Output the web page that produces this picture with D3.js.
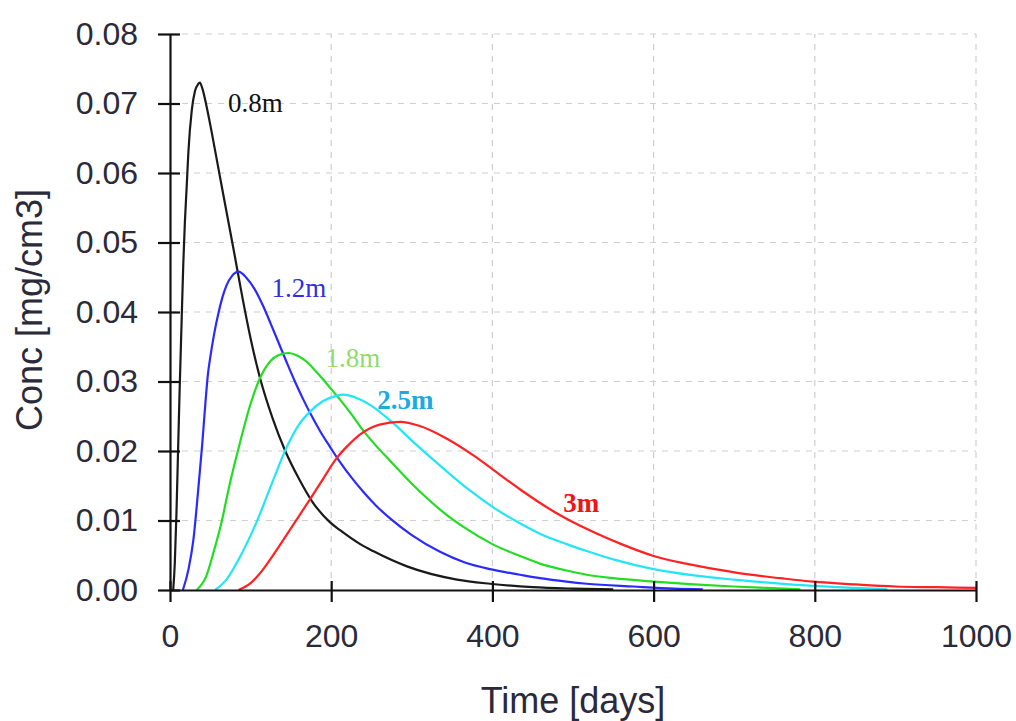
<!DOCTYPE html>
<html>
<head>
<meta charset="utf-8">
<script src="https://cdn.jsdelivr.net/npm/d3@7"></script>
<style>
  html, body { margin: 0; padding: 0; background: #fff; }
  svg { display: block; }
</style>
</head>
<body>
<svg id="chart" width="1016" height="721"></svg>
<script>
// ---- data ----
const xTicks = [0, 200, 400, 600, 800, 1000];
const yTicks = [0.00, 0.01, 0.02, 0.03, 0.04, 0.05, 0.06, 0.07, 0.08];
const seriesNames = ["0.8m", "1.2m", "1.8m", "2.5m", "3m"];

const t08 = [4, 6, 8, 10, 12, 14.5, 16.5, 18.5, 20.7, 22.8, 27, 31, 35, 37, 40, 45, 52, 60, 70, 80, 90, 100, 111.7, 127, 143, 160, 176, 198, 211, 236, 252, 294, 356, 397, 450, 500, 550];
const c08 = [0, 0.004, 0.011, 0.020, 0.029, 0.039, 0.047, 0.053, 0.058, 0.063, 0.069, 0.0718, 0.0728, 0.0730, 0.0722, 0.0698, 0.0657, 0.0607, 0.0545, 0.0483, 0.0420, 0.0362, 0.0305, 0.0248, 0.0200, 0.0160, 0.0128, 0.0098, 0.0086, 0.0066, 0.0056, 0.0034, 0.0015, 0.0009, 0.0004, 0.0002, 0.0001];

const t12 = [16, 23, 29, 35, 40, 44, 47, 50, 55, 60, 65, 70, 77, 85, 95, 105, 115, 125, 135, 145, 155, 165, 175, 187, 198.5, 211, 225, 240, 256, 273, 300, 335, 365, 397, 434, 459, 492, 517, 575, 625, 661];
const c12 = [0, 0.003, 0.0072, 0.0144, 0.021, 0.027, 0.031, 0.0335, 0.0370, 0.0398, 0.0421, 0.0438, 0.0452, 0.0458, 0.0449, 0.0433, 0.0410, 0.0383, 0.0355, 0.0327, 0.0300, 0.0275, 0.0252, 0.0227, 0.0206, 0.0184, 0.0162, 0.0141, 0.0121, 0.0103, 0.0079, 0.0055, 0.0040, 0.0030, 0.0022, 0.0017, 0.0012, 0.0009, 0.0005, 0.0002, 0.0001];

const t18 = [33, 45, 53.7, 64, 74.4, 86.8, 100, 111.7, 125, 135, 146.8, 160, 170, 180, 190, 200, 211, 225, 240, 256, 273, 300, 320, 340, 365, 400, 434, 459, 492, 517, 550, 600, 650, 699, 740, 782];
const c18 = [0, 0.002, 0.0053, 0.0098, 0.0154, 0.0212, 0.0268, 0.0305, 0.0330, 0.0338, 0.0341, 0.0336, 0.0328, 0.0316, 0.0303, 0.0289, 0.0274, 0.0253, 0.0229, 0.0207, 0.0186, 0.0153, 0.0131, 0.0111, 0.0090, 0.0066, 0.0049, 0.0038, 0.0028, 0.0022, 0.0017, 0.0012, 0.0008, 0.0005, 0.0003, 0.0001];

const t25 = [56, 70, 87, 107.5, 128, 145, 160, 174, 190, 205, 215, 230, 250, 277, 300, 339, 370, 401, 434, 459, 492, 517, 550, 600, 650, 699, 750, 798, 850, 890];
const c25 = [0, 0.0015, 0.0048, 0.0098, 0.0158, 0.0206, 0.0238, 0.0257, 0.0272, 0.0279, 0.0281, 0.0277, 0.0265, 0.0240, 0.0215, 0.0175, 0.0145, 0.0119, 0.0096, 0.0081, 0.0066, 0.0056, 0.0044, 0.0030, 0.0021, 0.0015, 0.0010, 0.0006, 0.0003, 0.0001];

const t30 = [85, 100, 111.7, 125, 140.6, 161, 175, 190, 207, 220, 236, 260, 285, 310, 343, 376, 401, 434, 476, 496, 530, 560, 600, 640, 682, 720, 757, 798, 850, 900, 950, 1000];
const c30 = [0, 0.001, 0.0024, 0.0045, 0.0072, 0.0108, 0.0133, 0.016, 0.0190, 0.0207, 0.0224, 0.0238, 0.0242, 0.0236, 0.0218, 0.0194, 0.0173, 0.0145, 0.0113, 0.0100, 0.0081, 0.0066, 0.0049, 0.0038, 0.0029, 0.0022, 0.0017, 0.0012, 0.0008, 0.0005, 0.0004, 0.0003];

const seriesColors = ["#1a1a1a", "#2a2aff", "#22dd22", "#22e6f6", "#ff2222"];
const labelColors = ["#111111", "#2f2fe0", "#8fdc6a", "#1aaae6", "#f01515"];

// ---- build ----
const times = [t08, t12, t18, t25, t30];
const concs = [c08, c12, c18, c25, c30];
const series = seriesNames.map((n, i) => ({
  name: n,
  color: seriesColors[i],
  labelColor: labelColors[i],
  pts: times[i].map((t, j) => [t, concs[i][j]])
}));

const svg = d3.select("#chart");
const x = d3.scaleLinear().domain([0, 1000]).range([170, 976]);
const y = d3.scaleLinear().domain([0, 0.08]).range([590, 34]);

// grid
const grid = svg.append("g").attr("stroke", "#cfcfcf").attr("stroke-width", 1.2).attr("stroke-dasharray", "6,6");
grid.selectAll("line.h").data(yTicks.slice(1)).enter().append("line")
  .attr("x1", x(0)).attr("x2", x(1000)).attr("y1", d => y(d)).attr("y2", d => y(d));
grid.selectAll("line.v").data(xTicks.slice(1)).enter().append("line")
  .attr("y1", y(0)).attr("y2", y(0.08)).attr("x1", d => x(d)).attr("x2", d => x(d));

// curves
const line = d3.line().x(d => x(d[0])).y(d => y(d[1])).curve(d3.curveMonotoneX);
svg.append("g").selectAll("path").data(series).enter().append("path")
  .attr("d", d => line(d.pts))
  .attr("fill", "none")
  .attr("stroke", d => d.color)
  .attr("stroke-width", 2.2)
  .attr("stroke-linejoin", "round");

// axes
const xAxis = d3.axisBottom(x).tickValues(xTicks).tickFormat(d3.format("d")).tickSizeInner(12).tickSizeOuter(0).tickPadding(22);
const gx = svg.append("g").attr("transform", `translate(0,${y(0)})`).call(xAxis);
const yAxis = d3.axisLeft(y).tickValues(yTicks).tickFormat(d3.format(".2f")).tickSizeInner(12).tickSizeOuter(0).tickPadding(20);
const gy = svg.append("g").attr("transform", `translate(${x(0)},0)`).call(yAxis);

[gx, gy].forEach(g => {
  g.select(".domain").attr("stroke", "#111").attr("stroke-width", 2.2);
  g.selectAll(".tick line").attr("stroke", "#111").attr("stroke-width", 2.2);
  g.selectAll(".tick text").attr("fill", "#2a2a3a")
    .style("font-family", "'Liberation Sans', Arial, sans-serif").style("font-size", "32px");
});
// ticks cross the axis
gx.selectAll(".tick line").attr("y1", -9);
gy.selectAll(".tick line").attr("x1", 10);

// axis titles
svg.append("text").attr("x", (x(0) + x(1000)) / 2).attr("y", 713)
  .attr("text-anchor", "middle").attr("fill", "#2a2a3a")
  .style("font-family", "'Liberation Sans', Arial, sans-serif").style("font-size", "36px")
  .text("Time [days]");
svg.append("text").attr("transform", "translate(42,310) rotate(-90)")
  .attr("text-anchor", "middle").attr("fill", "#2a2a3a")
  .style("font-family", "'Liberation Sans', Arial, sans-serif").style("font-size", "36px")
  .text("Conc [mg/cm3]");

// curve labels (anchored at a point near each curve)
const labelAt = [[72, 0.0688], [126, 0.0421], [193, 0.0321], [257, 0.0260], [488, 0.0112]];
svg.append("g").selectAll("text").data(series).enter().append("text")
  .attr("x", (d, i) => x(labelAt[i][0]))
  .attr("y", (d, i) => y(labelAt[i][1]))
  .attr("fill", d => d.labelColor)
  .style("font-family", "'Liberation Serif', 'Times New Roman', serif")
  .style("font-size", "27px")
  .style("font-weight", (d, i) => (i >= 3 ? "bold" : "normal"))
  .text(d => d.name);
</script>
</body>
</html>
